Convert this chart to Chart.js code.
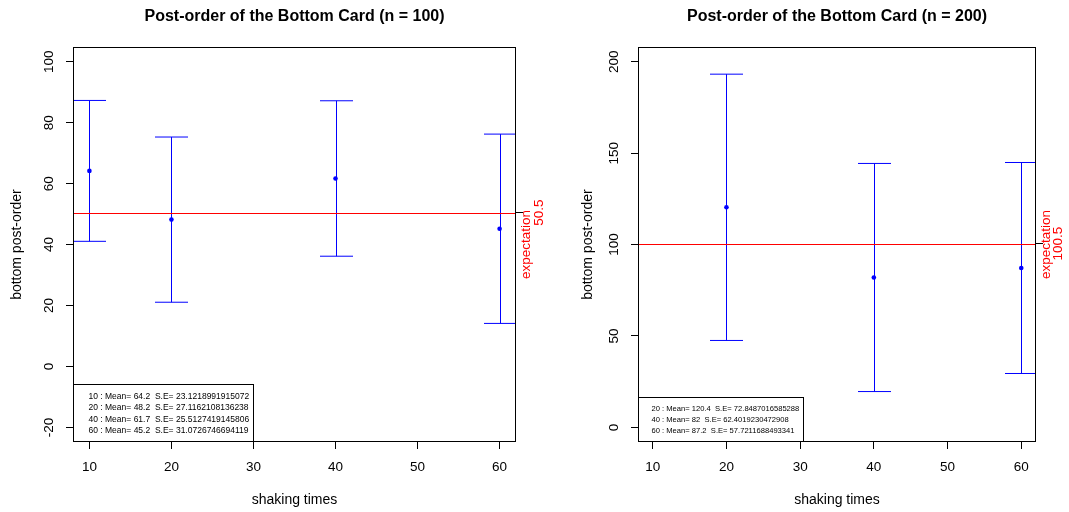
<!DOCTYPE html>
<html>
<head>
<meta charset="utf-8">
<script src="https://cdn.jsdelivr.net/npm/chart.js@4.4.1/dist/chart.umd.min.js"></script>
<style>
  html, body { margin: 0; padding: 0; background: #fff; }
  #wrap { position: relative; width: 1069px; height: 512px; overflow: hidden; background: #fff; }
  #wrap canvas { position: absolute; top: 0; }
</style>
</head>
<body>
<div id="wrap">
  <canvas id="panel100" width="555" height="512" style="left:0;width:555px;height:512px"></canvas>
  <canvas id="panel200" width="514" height="512" style="left:555px;width:514px;height:512px"></canvas>
</div>
<script>
// ---- data: n = 100 ----
const shakes100 = [10, 20, 40, 60];
const means100 = [64.2, 48.2, 61.7, 45.2];
const se100 = [23.1218991915072, 27.1162108136238, 25.5127419145806, 31.0726746694119];
const expect100 = 50.5;
const yLim100 = [-20, 100];
const yTicks100 = [-20, 0, 20, 40, 60, 80, 100];

// ---- data: n = 200 ----
const shakes200 = [20, 40, 60];
const means200 = [120.4, 82, 87.2];
const se200 = [72.8487016585288, 62.4019230472908, 57.7211688493341];
const expect200 = 100.5;
const yLim200 = [0, 200];
const yTicks200 = [0, 50, 100, 150, 200];

// ---- shared x axis ----
const xLim = [10, 60];
const xTicks = [10, 20, 30, 40, 50, 60];

const FONT = "'Liberation Sans', Arial, Helvetica, sans-serif";
const BLUE = '#0000ff';
const RED = '#ff0000';

// axis limits widened by 4% on each side
function padRange(lim) {
  const d = (lim[1] - lim[0]) * 0.04;
  return [lim[0] - d, lim[1] + d];
}

// mean +/- S.E. whiskers with flat caps
const errorBars = {
  id: 'errorBars',
  beforeDatasetsDraw(chart, args, opts) {
    const { ctx, chartArea: a, scales: { x, y } } = chart;
    ctx.save();
    ctx.beginPath();
    ctx.rect(a.left, a.top, a.right - a.left, a.bottom - a.top);
    ctx.clip();
    ctx.strokeStyle = opts.color;
    ctx.lineWidth = 1;
    chart.data.datasets.forEach(ds => {
      if (!ds.errors) return;
      ds.data.forEach((p, i) => {
        const px = Math.round(x.getPixelForValue(p.x)) + 0.5;
        const hi = y.getPixelForValue(p.y + ds.errors[i]);
        const lo = y.getPixelForValue(p.y - ds.errors[i]);
        ctx.beginPath();
        ctx.moveTo(px, hi); ctx.lineTo(px, lo);
        ctx.stroke();
        ctx.beginPath();
        ctx.moveTo(px - opts.cap, hi); ctx.lineTo(px + opts.cap, hi);
        ctx.moveTo(px - opts.cap, lo); ctx.lineTo(px + opts.cap, lo);
        ctx.stroke();
      });
    });
    ctx.restore();
  }
};

// horizontal expectation line plus its caption in the right margin
const expectation = {
  id: 'expectation',
  afterDatasetsDraw(chart, args, opts) {
    const { ctx, chartArea: a, scales: { y } } = chart;
    const py = Math.round(y.getPixelForValue(opts.value)) + 0.5;
    ctx.save();
    ctx.strokeStyle = opts.color;
    ctx.lineWidth = 1;
    ctx.beginPath();
    ctx.moveTo(a.left, py); ctx.lineTo(a.right, py);
    ctx.stroke();
    ctx.restore();
  },
  afterDraw(chart, args, opts) {
    const { ctx, chartArea: a } = chart;
    ctx.save();
    ctx.translate(a.right + opts.offset, (a.top + a.bottom) / 2);
    ctx.rotate(-Math.PI / 2);
    ctx.fillStyle = opts.color;
    ctx.font = opts.font;
    ctx.textAlign = 'center';
    ctx.textBaseline = 'middle';
    ctx.fillText(opts.text, 0, 0);
    ctx.restore();
  }
};

// box around the plotting region
const frame = {
  id: 'frame',
  afterDraw(chart) {
    const { ctx, chartArea: a } = chart;
    ctx.save();
    ctx.strokeStyle = '#000';
    ctx.lineWidth = 1;
    const l = Math.round(a.left) + 0.5, t = Math.round(a.top) + 0.5;
    const r = Math.round(a.right) - 0.5, b = Math.round(a.bottom) - 0.5;
    ctx.strokeRect(l, t, r - l, b - t);
    ctx.restore();
  }
};

// summary box in the lower-left corner
const statsBox = {
  id: 'statsBox',
  afterDraw(chart, args, opts) {
    const { ctx, chartArea: a } = chart;
    const ds = chart.data.datasets[0];
    const lines = ds.data.map((p, i) => `${p.x} : Mean= ${p.y}  S.E= ${ds.errors[i]}`);
    ctx.save();
    ctx.font = opts.font;
    const w = Math.max(...lines.map(s => ctx.measureText(s).width));
    const boxW = Math.round(w + opts.padLeft + opts.padRight);
    const boxH = Math.round((lines.length - 1) * opts.lineH + opts.topGap + opts.bottomGap);
    const l = Math.round(a.left) + 0.5;
    const b = Math.round(a.bottom) - 0.5;
    const t = b - boxH;
    ctx.fillStyle = '#fff';
    ctx.fillRect(l, t, boxW, boxH);
    ctx.strokeStyle = '#000';
    ctx.lineWidth = 1;
    ctx.strokeRect(l, t, boxW, boxH);
    ctx.fillStyle = '#000';
    ctx.textAlign = 'left';
    ctx.textBaseline = 'middle';
    lines.forEach((s, i) => {
      const cy = t + opts.topGap + i * opts.lineH;
      ctx.fillText(s, l + opts.padLeft, cy);
    });
    ctx.restore();
  }
};

function makePanel(id, p) {
  const [xmin, xmax] = padRange(xLim);
  const [ymin, ymax] = padRange(p.yLim);
  const tickFont = { family: FONT, size: 13.5 };
  return new Chart(document.getElementById(id), {
    type: 'scatter',
    data: {
      datasets: [{
        data: p.shakes.map((s, i) => ({ x: s, y: p.means[i] })),
        errors: p.se,
        backgroundColor: BLUE,
        borderColor: BLUE,
        borderWidth: 0,
        pointRadius: 2.3,
        pointHoverRadius: 2.3
      }]
    },
    options: {
      responsive: false,
      animation: false,
      events: [],
      layout: { padding: 0 },
      plugins: {
        legend: { display: false },
        tooltip: { enabled: false },
        title: {
          display: true,
          text: p.title,
          fullSize: false,
          color: '#000',
          font: { family: FONT, size: 16, weight: 'bold' },
          padding: { top: 7, bottom: 21 }
        },
        errorBars: { color: BLUE, cap: 16.5 },
        expectation: {
          value: p.expect, color: RED, text: 'expectation',
          offset: 10, font: `13.5px ${FONT}`
        },
        statsBox: p.box
      },
      scales: {
        x: {
          type: 'linear',
          position: 'bottom',
          min: xmin,
          max: xmax,
          afterBuildTicks: s => { s.ticks = xTicks.map(v => ({ value: v })); },
          afterFit: s => { s.height = 70; },
          grid: { drawOnChartArea: false, drawTicks: true, tickLength: 7, tickColor: '#000', tickWidth: 1 },
          border: { display: false },
          ticks: {
            color: '#000', font: tickFont, padding: 10,
            minRotation: 0, maxRotation: 0, autoSkip: false,
            callback: v => String(v)
          },
          title: {
            display: true, text: 'shaking times', color: '#000',
            font: { family: FONT, size: 14 }, padding: { top: 0, bottom: 3 }
          }
        },
        y: {
          type: 'linear',
          position: 'left',
          min: ymin,
          max: ymax,
          afterBuildTicks: s => { s.ticks = p.yTicks.map(v => ({ value: v })); },
          afterFit: s => { s.width = p.leftW; },
          grid: { drawOnChartArea: false, drawTicks: true, tickLength: 7, tickColor: '#000', tickWidth: 1 },
          border: { display: false },
          ticks: {
            color: '#000', font: tickFont, padding: 5,
            minRotation: 90, maxRotation: 90, crossAlign: 'center', autoSkip: false,
            callback: v => String(v)
          },
          title: {
            display: true, text: 'bottom post-order', color: '#000',
            font: { family: FONT, size: 14 }, padding: { top: p.yTitlePad, bottom: 0 }
          }
        },
        y2: {
          type: 'linear',
          position: 'right',
          min: ymin,
          max: ymax,
          afterBuildTicks: s => { s.ticks = [{ value: p.expect }]; },
          afterFit: s => { s.width = p.rightW; },
          grid: { drawOnChartArea: false, drawTicks: true, tickLength: 7, tickColor: '#000', tickWidth: 1 },
          border: { display: false },
          ticks: {
            color: RED, font: tickFont, padding: p.valPad,
            minRotation: 90, maxRotation: 90, crossAlign: 'center', autoSkip: false,
            callback: v => String(v)
          }
        }
      }
    },
    plugins: [errorBars, expectation, frame, statsBox]
  });
}

makePanel('panel100', {
  title: 'Post-order of the Bottom Card (n = 100)',
  shakes: shakes100, means: means100, se: se100, expect: expect100,
  yLim: yLim100, yTicks: yTicks100,
  leftW: 73, rightW: 39, yTitlePad: 9, valPad: 3.4,
  box: { font: `8.5px ${FONT}`, padLeft: 15, padRight: 4, lineH: 11.5, topGap: 12, bottomGap: 10 }
});

makePanel('panel200', {
  title: 'Post-order of the Bottom Card (n = 200)',
  shakes: shakes200, means: means200, se: se200, expect: expect200,
  yLim: yLim200, yTicks: yTicks200,
  leftW: 83, rightW: 33, yTitlePad: 24.6, valPad: -1.9,
  box: { font: `7.6px ${FONT}`, padLeft: 13, padRight: 4, lineH: 11, topGap: 11.5, bottomGap: 10 }
});
</script>
</body>
</html>
